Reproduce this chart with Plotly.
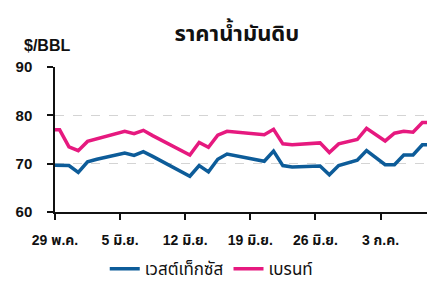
import plotly.graph_objects as go
import pandas as pd

dates = ["2023-05-28", "2023-05-29", "2023-05-30", "2023-05-31", "2023-06-01", "2023-06-02",
         "2023-06-05", "2023-06-06", "2023-06-07", "2023-06-08", "2023-06-09",
         "2023-06-12", "2023-06-13", "2023-06-14", "2023-06-15", "2023-06-16",
         "2023-06-20", "2023-06-21", "2023-06-22", "2023-06-23",
         "2023-06-26", "2023-06-27", "2023-06-28", "2023-06-29", "2023-06-30", "2023-07-01",
         "2023-07-03", "2023-07-04", "2023-07-05", "2023-07-06", "2023-07-07", "2023-07-08"]
wti = [69.7, 69.7, 69.6, 68.2, 70.4, 70.9,
       72.2, 71.7, 72.5, 71.5, 70.5,
       67.4, 69.6, 68.3, 70.9, 72.0,
       70.5, 72.6, 69.6, 69.3,
       69.5, 67.7, 69.6, 70.2, 70.7, 72.7,
       69.8, 69.8, 71.8, 71.8, 73.9, 73.9]
brent = [77.0, 77.0, 73.5, 72.7, 74.6, 75.1,
         76.7, 76.2, 76.9, 75.8, 74.8,
         71.8, 74.4, 73.4, 75.9, 76.7,
         76.0, 77.1, 74.1, 73.9,
         74.3, 72.3, 74.1, 74.5, 75.0, 77.3,
         74.7, 76.3, 76.7, 76.5, 78.5, 78.5]
tick_dates = ["2023-05-29", "2023-06-05", "2023-06-12", "2023-06-19", "2023-06-26", "2023-07-03"]
tick_labels = ["29 พ.ค.", "5 มิ.ย.", "12 มิ.ย.", "19 มิ.ย.", "26 มิ.ย.", "3 ก.ค."]
series_names = ["เวสต์เท็กซัส", "เบรนท์"]

x = pd.to_datetime(dates) + pd.Timedelta(hours=12)

FONT = "Liberation Sans, Arial, Noto Sans Thai, Noto Sans, sans-serif"
BLUE = "#0d5c99"
PINK = "#e6197f"

fig = go.Figure()
fig.add_trace(go.Scatter(x=x, y=wti, mode="lines", name=series_names[0],
                         line=dict(color=BLUE, width=3.5)))
fig.add_trace(go.Scatter(x=x, y=brent, mode="lines", name=series_names[1],
                         line=dict(color=PINK, width=3.5)))

fig.update_layout(
    width=433, height=293,
    margin=dict(l=55, r=6, t=67, b=78),
    paper_bgcolor="white", plot_bgcolor="white",
    font=dict(family=FONT, size=14, color="#111111"),
    title=dict(text="<b>ราคาน้ำมันดิบ</b>", x=0.547, xanchor="center",
               y=0.885, yanchor="middle", font=dict(size=22, color="#111111")),
    showlegend=True,
    legend=dict(orientation="h", x=0.42, xanchor="center", y=-0.27, yanchor="top",
                font=dict(size=17, color="#111111"), itemwidth=30,
                bgcolor="rgba(0,0,0,0)"),
    annotations=[dict(text="<b>$/BBL</b>", x=-0.089, y=1.15, xref="paper", yref="paper",
                      showarrow=False, xanchor="left", yanchor="middle",
                      font=dict(size=16, color="#111111"))],
)
fig.update_xaxes(
    range=["2023-05-29", "2023-07-08"], type="date",
    tickvals=pd.to_datetime(tick_dates), ticktext=["<b>%s</b>" % t for t in tick_labels],
    showline=True, linecolor="#111111", linewidth=1.5,
    ticks="outside", ticklen=6, tickcolor="#111111", tickwidth=1.5,
    showgrid=False, zeroline=False, ticklabelstandoff=8,
    tickfont=dict(size=14),
)
fig.update_yaxes(
    range=[60, 90], tickvals=[60, 70, 80, 90], ticktext=["<b>60</b>", "<b>70</b>", "<b>80</b>", "<b>90</b>"],
    showline=True, linecolor="#111111", linewidth=1.5,
    ticks="outside", ticklen=6, tickcolor="#111111", tickwidth=1.5,
    showgrid=True, gridcolor="#d4d4d4", griddash="dash", gridwidth=1,
    zeroline=False, ticklabelstandoff=12, tickfont=dict(size=15),
)
fig.write_html("out.html")
